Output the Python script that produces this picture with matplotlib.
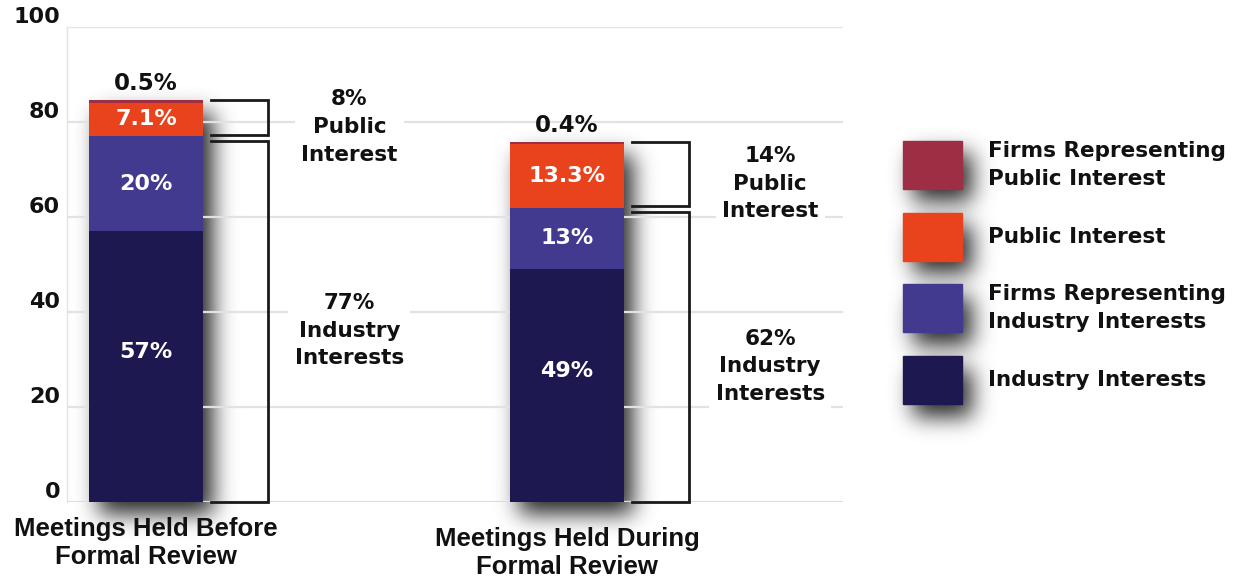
import numpy as np
import matplotlib
matplotlib.use("Agg")
import matplotlib.pyplot as plt
from matplotlib.patches import Rectangle

# data (percent of meetings)
categories = ["Meetings Held Before\nFormal Review", "Meetings Held During\nFormal Review"]
industry = [57, 49]
firms_industry = [20, 13]
public = [7.1, 13.3]
firms_public = [0.5, 0.4]
public_total = [8, 14]
industry_total = [77, 62]
yticks = [0, 20, 40, 60, 80, 100]

series_names = ["Industry Interests", "Firms Representing\nIndustry Interests",
                "Public Interest", "Firms Representing\nPublic Interest"]
colors = ["#1e1850", "#413a8f", "#e9431d", "#9d2e43"]

W, H = 1239, 579
BODY = ["DejaVu Sans"]
NARROW = ["Liberation Sans Narrow", "Liberation Sans", "DejaVu Sans"]


def blur(a, s):
    r = int(3 * s)
    k = np.exp(-0.5 * (np.arange(-r, r + 1) / s) ** 2)
    k /= k.sum()
    a = np.apply_along_axis(lambda m: np.convolve(m, k, mode="same"), 0, a)
    a = np.apply_along_axis(lambda m: np.convolve(m, k, mode="same"), 1, a)
    return a


fig = plt.figure(figsize=(W / 100, H / 100), dpi=100)
fig.patch.set_facecolor("white")
ax = fig.add_axes([67 / W, 77 / H, 776 / W, 475 / H])
ax.set_facecolor("none")
ax.set_xlim(-0.188, 1.656)
ax.set_ylim(0, 100)

x = np.arange(len(categories))
width = 0.271
stack = [industry, firms_industry, public, firms_public]

bottom = np.zeros(len(categories))
for vals, c in zip(stack, colors):
    ax.bar(x, vals, width, bottom=bottom, color=c, zorder=3, linewidth=0)
    bottom = bottom + np.array(vals)
tops = bottom

# grid and axes
ax.set_yticks(yticks)
ax.set_yticklabels([str(t) for t in yticks], fontweight="bold", fontsize=16,
                   family=BODY, va="bottom", color="#111111")
ax.yaxis.grid(True, color="#e2e2e2", linewidth=1.6, zorder=0)
ax.tick_params(axis="y", length=0, pad=5)
ax.set_xticks([])
for s in ["top", "right", "bottom"]:
    ax.spines[s].set_visible(False)
ax.spines["left"].set_color("#eadfe2")
ax.spines["left"].set_linewidth(1)

# labels inside bars
bottom = np.zeros(len(categories))
for k, vals in enumerate(stack[:3]):
    for i, v in enumerate(vals):
        y = bottom[i] + v / 2 + (3 if k == 0 else 0)
        ax.text(x[i], y, f"{v:g}%", ha="center", va="center", color="white",
                fontsize=16, fontweight="bold", family=BODY, zorder=5)
    bottom = bottom + np.array(vals)
for i, v in enumerate(firms_public):
    ax.text(x[i], tops[i] + 3.6, f"{v:g}%", ha="center", va="center", color="#111111",
            fontsize=16.5, fontweight="bold", family=BODY, zorder=5)

# brackets
x0, x1 = 0.155, 0.29
for i in range(len(categories)):
    bnd = industry[i] + firms_industry[i]
    pt, pb = tops[i], bnd + 0.3
    it, ib = bnd - 0.9, 0
    for t, bb in [(pt, pb), (it, ib)]:
        ax.plot([x[i] + x0, x[i] + x1, x[i] + x1, x[i] + x0], [t, t, bb, bb],
                color="#1a1a1a", lw=2.0, solid_joinstyle="miter", zorder=4, clip_on=False)
    ax.text(x[i] + 0.483, (pt + pb) / 2 - 2, f"{public_total[i]}%\nPublic\nInterest",
            ha="center", va="center", fontsize=15.5, fontweight="bold", family=BODY,
            linespacing=1.48, color="#111111", zorder=5,
            bbox=dict(boxstyle="square,pad=0.3", fc="white", ec="none"))
    ax.text(x[i] + 0.483, (it + ib) / 2 - 2, f"{industry_total[i]}%\nIndustry\nInterests",
            ha="center", va="center", fontsize=15.5, fontweight="bold", family=BODY,
            linespacing=1.48, color="#111111", zorder=5,
            bbox=dict(boxstyle="square,pad=0.3", fc="white", ec="none"))

# baseline
ax.axhline(0, color="#dcdcdc", lw=1.8, zorder=2)

# category labels
for i, cat in enumerate(categories):
    ax.text(x[i], -3.2 - 2.1 * i, cat, ha="center", va="top",
            fontsize=18.5, fontweight="bold", family=NARROW, linespacing=1.2, color="#111111")

# legend, drawn in figure pixels
leg_rects = []
for j, (name, c) in enumerate(zip(series_names[::-1], colors[::-1])):
    top_px = 141 + j * 71.7
    r = (903, H - top_px - 48, 59, 48)
    leg_rects.append(r)
    fig.add_artist(Rectangle((r[0] / W, r[1] / H), r[2] / W, r[3] / H,
                             transform=fig.transFigure, color=c, zorder=3))
    fig.text(988 / W, (r[1] + 24) / H, name, ha="left", va="center", fontsize=15.5,
             fontweight="bold", family=BODY, linespacing=1.5, color="#111111")

# soft drop shadows behind bars and legend swatches
mask = np.zeros((H, W))
rects = []
for i in range(len(categories)):
    (px0, py0) = ax.transData.transform((x[i] - width / 2, 0))
    (px1, py1) = ax.transData.transform((x[i] + width / 2, tops[i]))
    rects.append((px0, py0, px1 - px0, py1 - py0))
rects += leg_rects
dx, dy = 10, -12
for (rx, ry, rw, rh) in rects:
    xa, xb = int(rx + dx), int(rx + rw + dx)
    ya, yb = int(ry + dy), int(ry + rh + dy)
    mask[max(ya, 0):yb, max(xa, 0):xb] = 1
mask = blur(mask, 11)
shadow = np.zeros((H, W, 4))
shadow[..., 3] = 0.85 * mask
fig.figimage(shadow, xo=0, yo=0, origin="lower", zorder=-1)

fig.savefig("out.png", dpi=100, facecolor="white")
